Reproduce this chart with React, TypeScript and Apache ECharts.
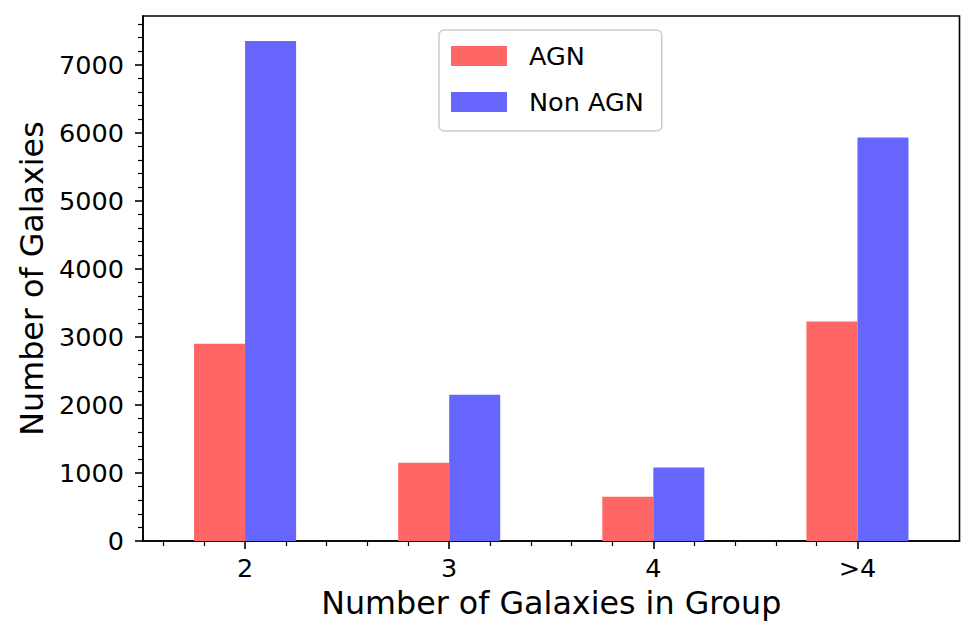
import React, { useEffect, useRef } from "react";
import * as echarts from "echarts";

const categories = ["2", "3", "4", ">4"];
const agnValues = [2900, 1150, 650, 3225];
const nonAgnValues = [7350, 2150, 1080, 5930];
const yTicks = [0, 1000, 2000, 3000, 4000, 5000, 6000, 7000];
const yMinorTicks = Array.from({ length: 39 }, (_, i) => (i + 1) * 200).filter((v) => v % 1000 !== 0);
const xMinorTicks = Array.from({ length: 18 }, (_, i) => Math.round((-0.4 + i * 0.2) * 10) / 10).filter(
  (v) => Math.abs(v - Math.round(v)) > 1e-6
);
const yMax = 7350 * 1.05;

const FONT = "DejaVu Sans";

export default function App() {
  const ref = useRef<HTMLDivElement>(null);
  useEffect(() => {
    if (!ref.current) return;
    const chart = echarts.init(ref.current, null, { renderer: "svg" });
    chart.setOption({
      animation: false,
      backgroundColor: "#ffffff",
      textStyle: { fontFamily: FONT },
      grid: {
        left: 143,
        top: 16,
        right: 16.5,
        bottom: 100,
        show: true,
        borderColor: "#000000",
        borderWidth: 1.6,
        backgroundColor: "transparent",
      },
      legend: {
        orient: "vertical",
        left: 439,
        top: 30,
        itemWidth: 56,
        itemHeight: 20,
        itemGap: 20,
        padding: [13, 18, 16, 12],
        backgroundColor: "rgba(255,255,255,0.8)",
        borderColor: "#cccccc",
        borderWidth: 1.5,
        borderRadius: 5,
        icon: "rect",
        textStyle: {
          fontFamily: FONT,
          fontSize: 25.5,
          color: "#000000",
          lineHeight: 20,
          padding: [0, 0, 0, 17],
        },
        data: ["AGN", "Non AGN"],
      },
      xAxis: [
        {
          type: "category",
          data: categories,
          boundaryGap: true,
          name: "Number of Galaxies in Group",
          nameLocation: "middle",
          nameGap: 46,
          nameTextStyle: { fontFamily: FONT, fontSize: 31.75, color: "#000000" },
          axisLine: { show: true, onZero: false, lineStyle: { color: "#000000", width: 1.6 } },
          axisTick: { show: true, alignWithLabel: true, length: 8, lineStyle: { color: "#000000", width: 1.6 } },
          axisLabel: { fontFamily: FONT, fontSize: 25.5, color: "#000000", margin: 14 },
          splitLine: { show: false },
        },
        {
          type: "value",
          min: -0.5,
          max: 3.5,
          position: "bottom",
          axisLine: { show: false, onZero: false },
          axisLabel: { show: false },
          splitLine: { show: false },
          axisTick: {
            show: true,
            length: 5,
            customValues: xMinorTicks,
            lineStyle: { color: "#000000", width: 1.2 },
          },
        },
      ],
      yAxis: [
        {
          type: "value",
          min: 0,
          max: yMax,
          position: "left",
          name: "Number of Galaxies",
          nameLocation: "middle",
          nameGap: 95,
          nameTextStyle: { fontFamily: FONT, fontSize: 31.75, color: "#000000" },
          axisLine: { show: true, onZero: false, lineStyle: { color: "#000000", width: 1.6 } },
          axisTick: { show: true, length: 8, customValues: yTicks, lineStyle: { color: "#000000", width: 1.6 } },
          axisLabel: {
            fontFamily: FONT,
            fontSize: 25.5,
            color: "#000000",
            margin: 19,
            customValues: yTicks,
            formatter: (v: number) => String(Math.round(v)),
          },
          splitLine: { show: false },
        },
        {
          type: "value",
          min: 0,
          max: yMax,
          position: "left",
          axisLine: { show: false, onZero: false },
          axisLabel: { show: false },
          splitLine: { show: false },
          axisTick: {
            show: true,
            length: 5,
            customValues: yMinorTicks,
            lineStyle: { color: "#000000", width: 1.2 },
          },
        },
      ],
      series: [
        {
          name: "AGN",
          type: "bar",
          xAxisIndex: 0,
          yAxisIndex: 0,
          data: agnValues,
          barWidth: "25%",
          barGap: "0%",
          itemStyle: { color: "#ff6666" },
        },
        {
          name: "Non AGN",
          type: "bar",
          xAxisIndex: 0,
          yAxisIndex: 0,
          data: nonAgnValues,
          barWidth: "25%",
          barGap: "0%",
          itemStyle: { color: "#6666ff" },
        },
      ],
    });
    return () => chart.dispose();
  }, []);
  return (
    <div
      ref={ref}
      style={{ position: "fixed", left: 0, top: 0, width: 976, height: 641, background: "#ffffff" }}
    />
  );
}
